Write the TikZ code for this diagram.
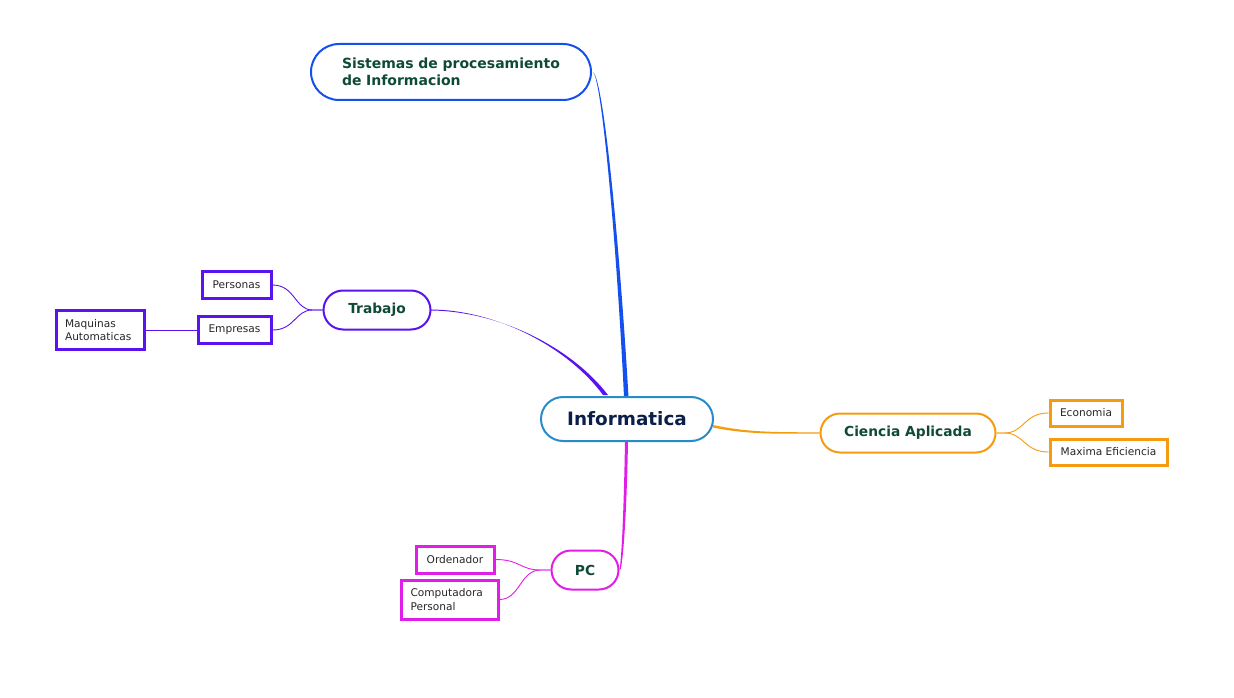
\documentclass[tikz,border=0pt]{standalone}
\usepackage{fontspec}
\setmainfont{DejaVu Sans}
\usetikzlibrary{calc}
\pgfdeclarelayer{background}
\pgfsetlayers{background,main}
\definecolor{cblue}{HTML}{1450EE}
\definecolor{cinfo}{HTML}{2A8BCB}
\definecolor{cpurp}{HTML}{5A12EE}
\definecolor{corange}{HTML}{F59B10}
\definecolor{cmag}{HTML}{E11DE8}
\definecolor{tgreen}{HTML}{0F4A38}
\definecolor{tnavy}{HTML}{0C1E4A}
\tikzset{
  topic/.style={draw, line width=2pt, fill=white, rounded corners=#1, inner sep=0pt, text=tgreen, font=\bfseries\fontsize{13.8}{16}\selectfont},
  leaf/.style={draw, line width=3pt, fill=white, inner sep=0pt, text=black!85, font=\fontsize{10.6}{13}\selectfont},
  thin/.style={line width=0.9pt},
}
\begin{document}
\begin{tikzpicture}[x=1pt,y=-1pt]
\useasboundingbox (0,0) rectangle (1234,698);
% central
\node[topic=22pt, draw=cinfo, text=tnavy, minimum width=172pt, minimum height=44pt, font=\bfseries\fontsize{18.4}{21}\selectfont] (info) at (627,419) {Informatica};
% main topics
\node[topic=28pt, draw=cblue, minimum width=280pt, minimum height=56pt, text width=218pt, align=left, font=\bfseries\fontsize{14}{17.5}\selectfont] (sis) at (451,72) {Sistemas de procesamiento\\de Informacion};
\node[topic=19.5pt, draw=cpurp, minimum width=107pt, minimum height=39pt] (trab) at (377,310) {Trabajo};
\node[topic=19.5pt, draw=corange, minimum width=175pt, minimum height=39pt] (cien) at (908,433) {Ciencia Aplicada};
\node[topic=19.5pt, draw=cmag, minimum width=67pt, minimum height=39pt] (pc) at (585,570) {PC};
% leaves
\node[leaf, draw=cpurp, minimum width=69pt, minimum height=27pt] (pers) at (236.5,285) {Personas};
\node[leaf, draw=cpurp, minimum width=73pt, minimum height=27pt] (emp) at (234.5,330) {Empresas};
\node[leaf, draw=cpurp, minimum width=88pt, minimum height=39pt, text width=70pt, align=left, font=\fontsize{10.6}{13.5}\selectfont] (maq) at (100,330) {Maquinas\\Automaticas};
\node[leaf, draw=corange, minimum width=72pt, minimum height=26pt] (eco) at (1086,413) {Economia};
\node[leaf, draw=corange, minimum width=117pt, minimum height=26pt] (max) at (1108.5,452) {Maxima Eficiencia};
\node[leaf, draw=cmag, minimum width=78pt, minimum height=27pt] (ord) at (455,559.5) {Ordenador};
\node[leaf, draw=cmag, minimum width=97pt, minimum height=39pt, text width=78pt, align=left, font=\fontsize{10.6}{13.5}\selectfont] (comp) at (449.5,599.5) {Computadora\\Personal};
% main connectors (tapered)
\begin{pgfonlayer}{background}
\fill[cblue] ($(info.north)+(-3,1)$) .. controls (617,250) and (602,80) .. ($(sis.east)+(1,0)$)
  .. controls (604,80) and (620,250) .. ($(info.north)+(1.5,1)$) -- cycle;
\fill[cpurp] ($(info.north)+(-24,-1)$) .. controls (570,350) and (500,310) .. ($(trab.east)+(-1,-0.5)$)
  -- ($(trab.east)+(-1,0.5)$) .. controls (500,311) and (572,348) .. ($(info.north)+(-19,-1)$) -- cycle;
\fill[corange] ($(info.east)+(-1,6)$) .. controls (750,433) and (780,432) .. ($(cien.west)+(0,-0.6)$)
  -- ($(cien.west)+(0,0.6)$) .. controls (780,433.6) and (750,435) .. ($(info.east)+(-1,8.5)$) -- cycle;
\fill[cmag] ($(info.south)+(-2,-1)$) .. controls (624,500) and (622,555) .. (pc.east)
  -- ($(pc.east)+(1.2,-1)$) .. controls (624,555) and (627,500) .. ($(info.south)+(1,-1)$) -- cycle;
% sub connectors
\draw[thin, cpurp] (trab.west) -- ++(-10,0) .. controls (295,310) and (295,285) .. (pers.east);
\draw[thin, cpurp] (trab.west) -- ++(-10,0) .. controls (295,310) and (295,330) .. (emp.east);
\draw[thin, cpurp] (emp.west) -- (maq.east);
\draw[thin, corange] (cien.east) -- ++(8,0) .. controls (1024,433) and (1024,413) .. (eco.west);
\draw[thin, corange] (cien.east) -- ++(8,0) .. controls (1024,433) and (1024,452) .. (max.west);
\draw[thin, cmag] (pc.west) -- ++(-10,0) .. controls (520,570) and (520,559.5) .. (ord.east);
\draw[thin, cmag] (pc.west) -- ++(-10,0) .. controls (520,570) and (520,599.5) .. (comp.east);
\end{pgfonlayer}
\end{tikzpicture}
\end{document}
